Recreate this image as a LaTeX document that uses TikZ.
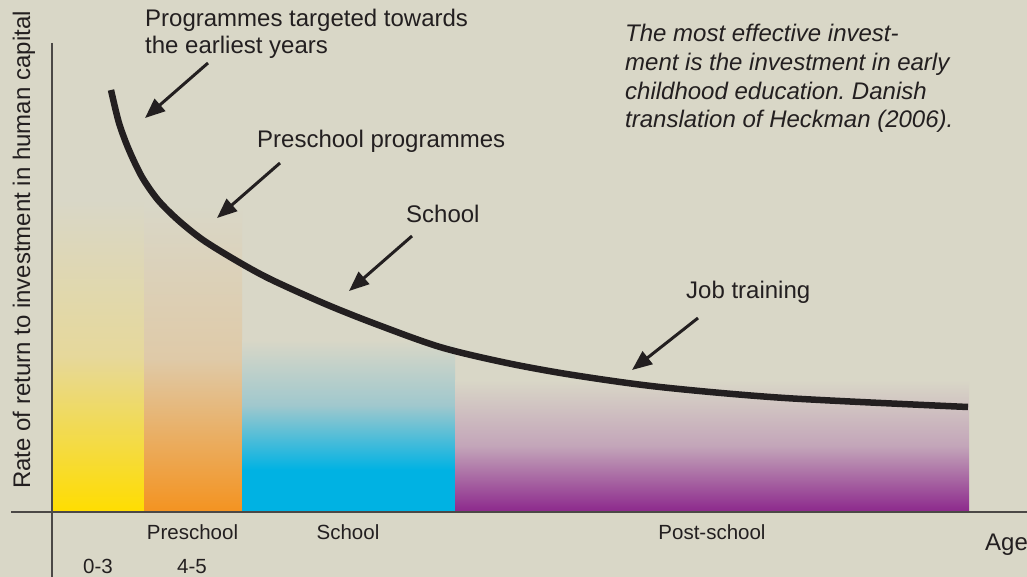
\documentclass[tikz,border=0pt]{standalone}
\usepackage{fontspec}
\setmainfont{Liberation Sans}
\usetikzlibrary{arrows.meta}
\definecolor{bg}{RGB}{217,215,199}
\definecolor{ink}{RGB}{35,31,32}
\definecolor{axisc}{RGB}{75,72,70}
\definecolor{byel}{RGB}{255,221,0}
\definecolor{yelmid}{RGB}{230,216,155}
\definecolor{borg}{RGB}{244,147,32}
\definecolor{orgmid}{RGB}{223,202,168}
\definecolor{bblue}{RGB}{0,178,227}
\definecolor{bluemid}{RGB}{160,200,205}
\definecolor{bpur}{RGB}{140,40,140}
\definecolor{purmid}{RGB}{195,165,185}
\begin{document}
\begin{tikzpicture}[x=1pt,y=-1pt,
  lab/.style={inner sep=0pt, anchor=base west, text=ink, font=\fontsize{24}{28}\selectfont},
  note/.style={inner sep=0pt, anchor=base west, text=ink, font=\fontsize{24}{28}\selectfont\itshape},
  small/.style={inner sep=0pt, anchor=base, text=ink, font=\fontsize{20.5}{24}\selectfont},
  pointer/.style={draw=ink, line width=3pt, -{Triangle[length=20pt,width=16pt]}},
  axisline/.style={draw=axisc, line width=1.2pt},
  curveline/.style={draw=ink, line width=6.5pt}]
\fill[bg] (0,0) rectangle (1027,577);
\useasboundingbox (0,0) rectangle (1027,577);

% bars
\shade[top color=bg, bottom color=byel, middle color=yelmid] (52,200) rectangle (144,512);
\shade[top color=bg, bottom color=borg, middle color=orgmid] (144,205) rectangle (242,512);
\shade[top color=bg, bottom color=bblue, middle color=bluemid] (242,340) rectangle (455,470);
\fill[bblue] (242,469.5) rectangle (455,512);
\shade[top color=bg, bottom color=bpur, middle color=purmid] (455,380) rectangle (969,512);

% axes
\draw[axisline] (52,43) -- (52,577);
\draw[axisline] (11,512) -- (1027,512);

% curve
\draw[curveline] plot[smooth, tension=0.5] coordinates {(111,90) (119,123) (129,150) (142,177) (158,200) (178,220) (203,240) (237,261) (270,279) (323,303) (373,323) (440,347) (507,363) (573,375) (660,387) (785,398) (968,407)};

% labels
\node[lab] (t1a) at (145,27) {Programmes targeted towards};
\node[lab] (t1b) at (145,54) {the earliest years};
\node[lab] (t2) at (257,148) {Preschool programmes};
\node[lab] (t3) at (406,223) {School};
\node[lab] (t4) at (686,298) {Job training};

\node[note] (n1) at (625,42) {The most effective invest-};
\node[note] (n2) at (625,71) {ment is the investment in early};
\node[note] (n3) at (625,100) {childhood education.\ Danish};
\node[note] (n4) at (625,128) {translation of Heckman (2006).};

\node[lab, anchor=base, rotate=90] (ylab) at (30,250) {Rate of return to investment in human capital};

\node[small] (b1) at (192.5,539) {Preschool};
\node[small] (b2) at (348,539) {School};
\node[small] (b3) at (712,539) {Post-school};
\node[small] (b4) at (98,573) {0-3};
\node[small] (b5) at (192,573) {4-5};
\node[lab] (age) at (985,550) {Age};

% pointers
\coordinate (a1s) at (208,63);  \coordinate (a1e) at (145,118);
\coordinate (a2s) at (280,163); \coordinate (a2e) at (217,218);
\coordinate (a3s) at (412,236); \coordinate (a3e) at (349,291);
\coordinate (a4s) at (698,318); \coordinate (a4e) at (632,370);
\draw[pointer] (a1s) -- (a1e);
\draw[pointer] (a2s) -- (a2e);
\draw[pointer] (a3s) -- (a3e);
\draw[pointer] (a4s) -- (a4e);
\end{tikzpicture}
\end{document}
